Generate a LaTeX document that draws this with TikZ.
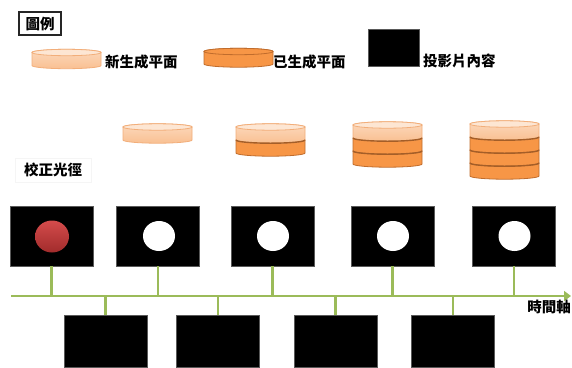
\documentclass[tikz,border=0pt]{standalone}
\usepackage{fontspec}
\newfontfamily\cjk{Noto Sans CJK TC}
\usetikzlibrary{arrows.meta,shapes.geometric}
\definecolor{lineGreen}{HTML}{9BBB59}
\definecolor{lightTop}{HTML}{FDE6D3}
\definecolor{lightA}{HTML}{FCD9BD}
\definecolor{lightB}{HTML}{F9C092}
\definecolor{lightEdge}{HTML}{F2AE7A}
\definecolor{darkFill}{HTML}{F79646}
\definecolor{darkEdge}{HTML}{C06C2C}
\definecolor{divEdge}{HTML}{A45E28}
\definecolor{redA}{HTML}{D44B4B}
\definecolor{redB}{HTML}{A12B2B}
% x left, y top-centre, x radius, height, style
\newcommand\cylslab[5]{%
  \path[#5] (#1,#2) -- (#1,{#2+#4})
    arc[start angle=180,end angle=360,x radius=#3pt,y radius=3.2pt]
    -- ({#1+2*#3},#2)
    arc[start angle=0,end angle=180,x radius=#3pt,y radius=3.2pt] -- cycle;}
\newcommand\cyltop[4]{%
  \path[#4] ({#1+#3},#2) ellipse[x radius=#3pt,y radius=3.2pt];}
\newcommand\cyldiv[3]{%
  \draw[divider] (#1,#2) arc[start angle=180,end angle=360,x radius=#3pt,y radius=3.2pt];}
\begin{document}
\begin{tikzpicture}[x=1pt,y=-1pt,
  lbl/.style={font=\cjk\bfseries\fontsize{14.5}{16}\selectfont,inner sep=0pt},
  slide/.style={rectangle,fill=black,draw=black!65,line width=0.6pt,inner sep=0pt},
  topslide/.style={slide,minimum width=83pt,minimum height=60pt},
  botslide/.style={slide,minimum width=83pt,minimum height=52pt},
  hole/.style={ellipse,fill=white,inner sep=0pt,minimum width=32pt,minimum height=30pt},
  redhole/.style={ellipse,inner sep=0pt,minimum width=34pt,minimum height=32pt,top color=redA,bottom color=redB},
  stem/.style={draw=lineGreen,line width=2.4pt},
  timeaxis/.style={draw=lineGreen,line width=2.6pt,-{Triangle[length=7pt,width=10pt]}},
  lightlayer/.style={top color=lightA,bottom color=lightB,draw=lightEdge,line width=0.8pt},
  lighttop/.style={fill=lightTop,draw=lightEdge,line width=0.8pt},
  darklayer/.style={fill=darkFill,draw=darkEdge,line width=0.8pt},
  darktop/.style={fill=darkFill,draw=darkEdge,line width=0.8pt},
  divider/.style={draw=divEdge,line width=1.4pt}
]
\fill[white] (0,0) rectangle (572,367);
\useasboundingbox (0,0) rectangle (572,367);

% legend
\node[lbl,draw=black!85,line width=1.2pt,minimum width=42pt,minimum height=23pt] (legend) at (40,23.5) {圖例};
\cylslab{32}{52.5}{34.5}{13}{lightlayer}
\cyltop{32}{52.5}{34.5}{lighttop}
\node[lbl,anchor=west] (newtxt) at (105,62) {新生成平面};
\cylslab{204}{51.5}{34.5}{12.5}{darklayer}
\cyltop{204}{51.5}{34.5}{darktop}
\node[lbl,anchor=west] (oldtxt) at (273,62) {已生成平面};
\node[slide,minimum width=51pt,minimum height=37pt] (legslide) at (393.5,47.5) {};
\node[lbl,anchor=west] (slidetxt) at (423,61) {投影片內容};

% growing stacks
\cylslab{123}{127}{34.5}{13}{lightlayer}
\cyltop{123}{127}{34.5}{lighttop}

\cylslab{236}{140}{34.5}{13}{darklayer}
\cylslab{236}{127}{34.5}{13}{lightlayer}
\cyltop{236}{127}{34.5}{lighttop}
\cyldiv{236}{140}{34.5}

\cylslab{353}{151}{34.5}{13}{darklayer}
\cylslab{353}{138}{34.5}{13}{darklayer}
\cylslab{353}{125}{34.5}{13}{lightlayer}
\cyltop{353}{125}{34.5}{lighttop}
\cyldiv{353}{138}{34.5}
\cyldiv{353}{151}{34.5}

\cylslab{470}{163}{34.5}{13}{darklayer}
\cylslab{470}{150}{34.5}{13}{darklayer}
\cylslab{470}{137}{34.5}{13}{darklayer}
\cylslab{470}{124}{34.5}{13}{lightlayer}
\cyltop{470}{124}{34.5}{lighttop}
\cyldiv{470}{137}{34.5}
\cyldiv{470}{150}{34.5}
\cyldiv{470}{163}{34.5}

% calibration label
\node[lbl,draw=black!4,minimum width=76pt,minimum height=24pt] (calib) at (53,170) {校正光徑};

% upper slides
\node[topslide] (t1) at (51.5,236) {};
\node[topslide] (t2) at (158,236) {};
\node[topslide] (t3) at (272.5,236) {};
\node[topslide] (t4) at (392.5,236) {};
\node[topslide] (t5) at (514,236) {};
\node[redhole] (h1) at (52,236.5) {};
\node[hole] (h2) at (159,236) {};
\node[hole] (h3) at (273,236) {};
\node[hole] (h4) at (393,236) {};
\node[hole] (h5) at (514.5,236) {};

% lower slides
\node[botslide] (b1) at (105.5,341) {};
\node[botslide] (b2) at (218,341) {};
\node[botslide] (b3) at (335.5,341) {};
\node[botslide] (b4) at (453,341) {};

% time axis
\coordinate (axL) at (11,296);
\coordinate (axR) at (571,296);
\foreach \n in {t1,t2,t3,t4,t5} \draw[stem] (\n.south) -- (\n.south |- axL);
\foreach \n in {b1,b2,b3,b4} \draw[stem] (\n.north) -- (\n.north |- axL);
\draw[timeaxis] (axL) -- (axR);
\node[lbl] (timetxt) at (549,307) {時間軸};
\end{tikzpicture}
\end{document}
